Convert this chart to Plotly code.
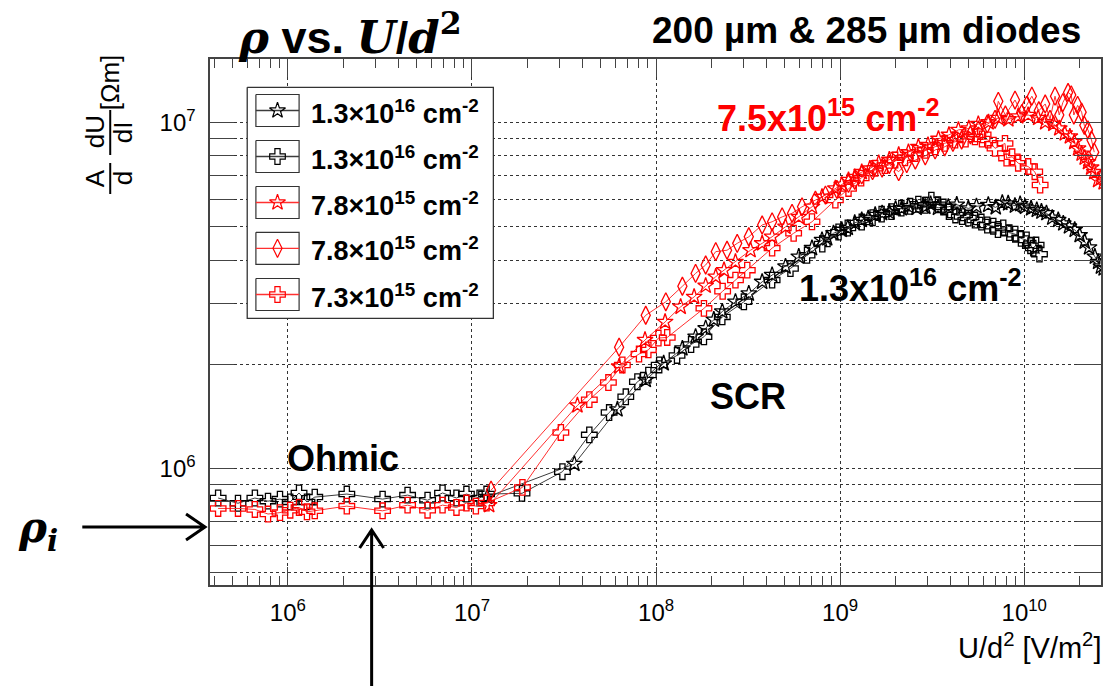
import plotly.graph_objects as go

# ---------------- data ----------------
# 1.3e16 cm^-2, open crosses (black)
bc_x = [4.18e5, 5.36e5, 6.62e5, 7.8e5, 9.06e5, 1.03e6, 1.15e6, 1.27e6, 1.4e6, 2.09e6,
        3.27e6, 4.47e6, 5.74e6, 6.92e6, 8.24e6, 9.33e6, 1.1e7, 1.2e7, 1.87e7, 3.1e7,
        4.34e7, 5.56e7, 6.85e7, 7.92e7, 9.08e7, 1.04e8, 1.3e8, 1.55e8, 1.82e8, 2.29e8,
        3.0e8, 4.27e8, 5.37e8, 6.61e8, 8.0e8, 9.8e8, 1.1e9, 1.31e9, 1.5e9, 1.68e9,
        1.9e9, 2.15e9, 2.4e9, 2.66e9, 2.9e9, 3.13e9, 3.4e9, 3.64e9, 3.9e9, 4.23e9,
        4.6e9, 4.97e9, 5.4e9, 5.85e9, 6.3e9, 6.79e9, 7.2e9, 7.69e9, 8.3e9, 8.94e9,
        9.6e9, 1.03e10, 1.08e10, 1.12e10, 1.16e10, 1.21e10]
bc_y = [8.21e5, 7.93e5, 8.21e5, 8.04e5, 8.15e5, 8.0e5, 8.49e5, 8.0e5, 8.26e5, 8.43e5,
        8.15e5, 8.37e5, 8.09e5, 8.49e5, 8.21e5, 8.43e5, 8.21e5, 8.43e5, 8.47e5, 9.78e5,
        1.25e6, 1.45e6, 1.61e6, 1.78e6, 1.86e6, 1.99e6, 2.12e6, 2.28e6, 2.40e6, 2.74e6,
        3.03e6, 3.50e6, 3.78e6, 4.13e6, 4.45e6, 4.82e6, 4.95e6, 5.15e6, 5.30e6, 5.43e6,
        5.52e6, 5.65e6, 5.72e6, 5.80e6, 5.76e6, 5.96e6, 5.78e6, 5.69e6, 5.52e6, 5.40e6,
        5.34e6, 5.29e6, 5.22e6, 5.15e6, 5.05e6, 5.01e6, 4.90e6, 4.95e6, 4.80e6, 4.75e6,
        4.62e6, 4.57e6, 4.40e6, 4.33e6, 4.42e6, 4.16e6]

# 1.3e16 cm^-2, open stars (black)
bs_x = [1.21e7, 3.6e7, 6.17e7, 8.79e7, 1.10e8, 1.39e8, 1.64e8, 1.86e8, 2.06e8, 2.29e8,
        2.70e8, 3.19e8, 3.77e8, 4.27e8, 5.05e8, 5.96e8, 7.03e8, 7.97e8, 8.5e8, 9.2e8,
        1.02e9, 1.1e9, 1.2e9, 1.31e9, 1.42e9, 1.55e9, 1.69e9, 1.85e9, 2.0e9, 2.16e9,
        2.35e9, 2.6e9, 2.9e9, 3.1e9, 3.4e9, 3.87e9, 4.3e9, 4.97e9, 5.5e9, 6.38e9,
        7.0e9, 7.6e9, 8.18e9, 8.9e9, 9.5e9, 1.01e10, 1.09e10, 1.17e10, 1.24e10, 1.32e10,
        1.42e10, 1.53e10, 1.63e10, 1.75e10, 1.88e10, 2.0e10, 2.13e10, 2.25e10, 2.42e10, 2.52e10,
        2.61e10, 2.7e10]
bs_y = [8.27e5, 1.03e6, 1.48e6, 1.80e6, 2.01e6, 2.22e6, 2.40e6, 2.54e6, 2.69e6, 2.84e6,
        3.03e6, 3.20e6, 3.46e6, 3.62e6, 3.83e6, 4.09e6, 4.33e6, 4.57e6, 4.62e6, 4.78e6,
        4.89e6, 4.95e6, 5.12e6, 5.22e6, 5.28e6, 5.40e6, 5.46e6, 5.50e6, 5.62e6, 5.64e6,
        5.72e6, 5.66e6, 5.70e6, 5.80e6, 5.66e6, 5.70e6, 5.78e6, 5.64e6, 5.72e6, 5.77e6,
        5.68e6, 5.85e6, 5.83e6, 5.74e6, 5.80e6, 5.70e6, 5.64e6, 5.58e6, 5.52e6, 5.46e6,
        5.30e6, 5.22e6, 5.10e6, 5.00e6, 4.89e6, 4.72e6, 4.52e6, 4.35e6, 4.09e6, 3.95e6,
        3.83e6, 3.78e6]

# 7.8e15 cm^-2, open stars (red)
rs_x = [1.24e7, 3.74e7, 6.30e7, 8.71e7, 1.12e8, 1.36e8, 1.61e8, 1.86e8, 2.11e8, 2.34e8,
        2.70e8, 3.26e8, 3.77e8, 4.27e8, 5.05e8, 5.96e8, 7.03e8, 7.97e8, 9.42e8, 1.02e9,
        1.11e9, 1.2e9, 1.31e9, 1.45e9, 1.62e9, 1.85e9, 2.08e9, 2.35e9, 2.66e9, 3.0e9,
        3.42e9, 3.9e9, 4.39e9, 5.0e9, 5.63e9, 6.4e9, 7.23e9, 8.2e9, 9.27e9, 1.05e10,
        1.19e10, 1.3e10, 1.44e10, 1.55e10, 1.66e10, 1.77e10, 1.87e10, 1.96e10, 2.05e10, 2.13e10,
        2.22e10, 2.31e10, 2.40e10, 2.52e10, 2.61e10, 2.7e10]
rs_y = [7.83e5, 1.52e6, 1.97e6, 2.35e6, 2.65e6, 2.93e6, 3.13e6, 3.37e6, 3.58e6, 3.74e6,
        3.95e6, 4.27e6, 4.47e6, 4.67e6, 4.99e6, 5.33e6, 5.70e6, 6.09e6, 6.44e6, 6.60e6,
        6.81e6, 6.95e6, 7.18e6, 7.35e6, 7.62e6, 7.80e6, 8.05e6, 8.20e6, 8.49e6, 8.60e6,
        8.96e6, 9.20e6, 9.51e6, 9.60e6, 9.89e6, 1.00e7, 1.03e7, 1.02e7, 1.04e7, 1.05e7,
        1.03e7, 1.00e7, 9.89e6, 9.60e6, 9.29e6, 9.10e6, 8.77e6, 8.40e6, 8.12e6, 7.90e6,
        7.67e6, 7.40e6, 7.18e6, 6.81e6, 6.90e6, 6.70e6]

# 7.8e15 cm^-2, open diamonds (red)
rd_x = [1.27e7, 6.30e7, 8.79e7, 1.13e8, 1.39e8, 1.64e8, 1.86e8, 2.11e8, 2.43e8, 2.76e8,
        3.19e8, 3.77e8, 4.27e8, 4.84e8, 5.48e8, 6.21e8, 7.34e8, 8.32e8, 9.6e8, 1.11e9,
        1.2e9, 1.31e9, 1.5e9, 1.69e9, 1.85e9, 2.08e9, 2.3e9, 2.56e9, 2.9e9, 3.28e9,
        3.7e9, 4.1e9, 4.57e9, 5.1e9, 5.63e9, 6.3e9, 6.94e9, 7.23e9, 7.9e9, 8.91e9,
        9.7e9, 1.03e10, 1.10e10, 1.2e10, 1.30e10, 1.38e10, 1.47e10, 1.55e10, 1.62e10, 1.73e10,
        1.80e10, 1.86e10, 1.95e10, 2.05e10, 2.12e10, 2.22e10, 2.32e10, 2.4e10]
rd_y = [8.65e5, 2.24e6, 2.77e6, 3.03e6, 3.36e6, 3.66e6, 3.87e6, 4.23e6, 4.27e6, 4.47e6,
        4.67e6, 5.05e6, 5.16e6, 5.33e6, 5.46e6, 5.70e6, 5.96e6, 6.16e6, 6.40e6, 6.66e6,
        6.80e6, 7.05e6, 7.25e6, 7.37e6, 7.55e6, 7.20e6, 7.60e6, 7.78e6, 8.00e6, 8.32e6,
        8.50e6, 8.75e6, 8.89e6, 9.20e6, 9.51e6, 9.90e6, 1.02e7, 1.15e7, 1.05e7, 1.16e7,
        1.06e7, 1.12e7, 1.19e7, 1.08e7, 1.13e7, 1.02e7, 1.19e7, 1.05e7, 1.14e7, 1.22e7,
        1.20e7, 1.05e7, 1.12e7, 1.07e7, 9.8e6, 9.51e6, 8.89e6, 8.2e6]

# 7.3e15 cm^-2, open crosses (red)
rc_x = [4.18e5, 5.36e5, 6.62e5, 7.8e5, 9.06e5, 1.03e6, 1.15e6, 1.27e6, 1.4e6, 2.09e6,
        3.27e6, 4.47e6, 5.74e6, 6.92e6, 8.24e6, 9.33e6, 1.05e7, 1.2e7, 1.88e7, 3.04e7,
        4.34e7, 5.51e7, 6.56e7, 8.08e7, 9.08e7, 1.03e8, 1.15e8, 1.82e8, 2.3e8, 2.7e8,
        3.13e8, 4.27e8, 5.59e8, 7.03e8, 9.42e8, 1.11e9, 1.3e9, 1.55e9, 1.75e9, 1.99e9,
        2.25e9, 2.56e9, 2.9e9, 3.28e9, 3.7e9, 4.21e9, 4.8e9, 5.40e9, 5.9e9, 6.38e9,
        6.94e9, 7.86e9, 8.02e9, 8.6e9, 9.27e9, 1.05e10, 1.14e10, 1.22e10]
rc_y = [7.66e5, 7.66e5, 7.61e5, 7.38e5, 7.45e5, 7.57e5, 7.71e5, 7.49e5, 7.54e5, 7.78e5,
        7.54e5, 7.83e5, 7.57e5, 7.83e5, 7.71e5, 7.94e5, 7.78e5, 7.94e5, 8.81e5, 1.27e6,
        1.58e6, 1.77e6, 1.99e6, 2.14e6, 2.20e6, 2.38e6, 2.39e6, 2.90e6, 3.25e6, 3.50e6,
        3.74e6, 4.33e6, 4.78e6, 5.16e6, 5.96e6, 6.44e6, 6.90e6, 7.37e6, 7.50e6, 7.78e6,
        7.90e6, 8.13e6, 8.30e6, 8.50e6, 8.70e6, 8.89e6, 8.95e6, 9.08e6, 8.95e6, 8.89e6,
        8.41e6, 8.69e6, 7.88e6, 7.95e6, 7.62e6, 7.45e6, 7.20e6, 6.59e6]

legend_labels = ["1.3×10<sup>16</sup> cm<sup>-2</sup>",
                 "1.3×10<sup>16</sup> cm<sup>-2</sup>",
                 "7.8×10<sup>15</sup> cm<sup>-2</sup>",
                 "7.8×10<sup>15</sup> cm<sup>-2</sup>",
                 "7.3×10<sup>15</sup> cm<sup>-2</sup>"]
x_tickvals = [1e6, 1e7, 1e8, 1e9, 1e10]
x_ticktext = ["10<sup>6</sup>", "10<sup>7</sup>", "10<sup>8</sup>", "10<sup>9</sup>", "10<sup>10</sup>"]
y_tickvals = [1e6, 1e7]
y_ticktext = ["10<sup>6</sup>", "10<sup>7</sup>"]

# ---------------- style / layout ----------------
W, H = 1107, 686
L, R, T, B = 210, 1103, 59, 585
def u(px):
    return (px - L) / (R - L)
def v(py):
    return (B - py) / (B - T)

SANS = "Liberation Sans, Arial, sans-serif"
SERIF = "DejaVu Serif"
RED = "#ff0000"
BLK = "#000000"

series = [
    (bs_x, bs_y, BLK, "#3c3c3c", "star-open", 12),
    (bc_x, bc_y, BLK, "#3c3c3c", "cross-open", 13),
    (rs_x, rs_y, RED, "#ff3030", "star-open", 12),
    (rd_x, rd_y, RED, "#ff3030", "diamond-tall-open", 13),
    (rc_x, rc_y, RED, "#ff3030", "cross-open", 13),
]

fig = go.Figure()
for (sx, sy, mc, lc, sym, sz), name in zip(series, legend_labels):
    fig.add_trace(go.Scatter(
        x=sx, y=sy, mode="lines+markers", name=name,
        line=dict(color=lc, width=1),
        marker=dict(symbol=sym, size=sz, color=mc, line=dict(width=1.3, color=mc)),
        hoverinfo="skip", showlegend=False))

# hand-drawn legend (on an overlay axis spanning the plot area)
lx0, lx1, ly0, ly1 = 247.3, 494, 87.3, 318.3
fig.add_trace(go.Scatter(
    x=[u(lx0), u(lx1), u(lx1), u(lx0), u(lx0)],
    y=[v(ly0), v(ly0), v(ly1), v(ly1), v(ly0)],
    xaxis="x2", yaxis="y2", mode="lines", fill="toself", fillcolor="white",
    line=dict(color="#333333", width=1.3), hoverinfo="skip", showlegend=False))
centers = [110.5, 156.5, 202.5, 248.3, 294.5]
bx0, bx1 = 256, 299.3
for (sx, sy, mc, lc, sym, sz), cy in zip(series, centers):
    fig.add_trace(go.Scatter(
        x=[u(bx0), u(bx1), u(bx1), u(bx0), u(bx0)],
        y=[v(cy - 16), v(cy - 16), v(cy + 16), v(cy + 16), v(cy - 16)],
        xaxis="x2", yaxis="y2", mode="lines",
        line=dict(color="#333333", width=1.2), hoverinfo="skip", showlegend=False))
    fig.add_trace(go.Scatter(
        x=[u(bx0), u(bx1)], y=[v(cy), v(cy)],
        xaxis="x2", yaxis="y2", mode="lines",
        line=dict(color=lc, width=1.3), hoverinfo="skip", showlegend=False))
    fig.add_trace(go.Scatter(
        x=[u((bx0 + bx1) / 2)], y=[v(cy)],
        xaxis="x2", yaxis="y2", mode="markers",
        marker=dict(symbol=sym, size=sz, color=mc, line=dict(width=1.2, color=mc)),
        hoverinfo="skip", showlegend=False))

annotations = []
for lab, cy in zip(legend_labels, centers):
    annotations.append(dict(x=u(309), y=v(cy + 1), xref="paper", yref="paper",
                            text="<b>" + lab + "</b>", showarrow=False,
                            xanchor="left", yanchor="middle",
                            font=dict(family=SANS, size=27, color="black")))

def txt(px, py, text, size, color="black", xanchor="center", angle=0, family=SANS):
    annotations.append(dict(x=u(px), y=v(py), xref="paper", yref="paper", text=text,
                            showarrow=False, xanchor=xanchor, yanchor="middle",
                            textangle=angle, font=dict(family=family, size=size, color=color)))

sp = '<span style="font-family:DejaVu Serif">'
txt(350, 34, "<b>" + sp + "<i>ρ</i></span> vs. " + sp + "<i>U</i></span>/" + sp +
    "<i>d</i><sup>2</sup></span></b>", 45)
txt(868, 31, "<b>200 µm &amp; 285 µm diodes</b>", 37)
txt(343, 458, "<b>Ohmic</b>", 36)
txt(749, 396, "<b>SCR</b>", 36)
txt(912, 286, "<b>1.3x10<sup>16</sup> cm<sup>-2</sup></b>", 36)
txt(830, 116, "<b>7.5x10<sup>15</sup> cm<sup>-2</sup></b>", 36, color=RED)
txt(38, 530, "<b><i>ρ<sub>i</sub></i></b>", 42, family=SERIF)
txt(1105, 646, "U/d<sup>2</sup> [V/m<sup>2</sup>]", 29, xanchor="right")
# y-axis title  (A/d)(dU/dI) [Ωm]
txt(95, 178, "A", 26, angle=-90)
txt(123, 178, "d", 26, angle=-90)
txt(95, 132, "dU", 26, angle=-90)
txt(123, 132, "dI", 26, angle=-90)
txt(110, 82, "[Ωm]", 26, angle=-90)

shapes = [
    dict(type="line", xref="paper", yref="paper", x0=u(110), x1=u(110), y0=v(163), y1=v(194),
         line=dict(color="black", width=2)),
    dict(type="line", xref="paper", yref="paper", x0=u(110), x1=u(110), y0=v(110), y1=v(155),
         line=dict(color="black", width=2)),
    # horizontal arrow to rho_i
    dict(type="path", xref="paper", yref="paper",
         path=f"M {u(82)},{v(527)} L {u(205)},{v(527)} M {u(186)},{v(514)} L {u(205)},{v(527)} L {u(186)},{v(540)}",
         line=dict(color="black", width=3)),
    # vertical arrow from below
    dict(type="path", xref="paper", yref="paper",
         path=f"M {u(372)},{v(686)} L {u(372)},{v(530)} M {u(360)},{v(548)} L {u(372)},{v(530)} L {u(384)},{v(548)}",
         line=dict(color="black", width=3)),
]

axis_common = dict(showline=True, linecolor="#444444", linewidth=1.6, mirror="ticks",
                   ticks="inside", tickcolor="#444444", tickwidth=1,
                   showgrid=True, gridcolor="#333333", gridwidth=1, griddash="3px,3px",
                   zeroline=False, tickfont=dict(family=SANS, size=24, color="black"))

fig.update_layout(
    width=W, height=H, margin=dict(l=L, r=W - R, t=T, b=H - B),
    paper_bgcolor="white", plot_bgcolor="white", showlegend=False,
    xaxis=dict(type="log", range=[5.577, 10.417], tickmode="array",
               tickvals=x_tickvals, ticktext=x_ticktext, ticklen=18,
               ticklabelstandoff=6,
               minor=dict(dtick="D1", ticks="inside", ticklen=9, tickcolor="#444444",
                          showgrid=False),
               **axis_common),
    yaxis=dict(type="log", range=[5.663, 7.183], tickmode="array",
               tickvals=y_tickvals, ticktext=y_ticktext, ticklen=24,
               ticklabelstandoff=8,
               minor=dict(dtick="D1", ticks="inside", ticklen=24, tickcolor="#444444",
                          showgrid=True, gridcolor="#333333", gridwidth=1, griddash="3px,3px"),
               **axis_common),
    xaxis2=dict(overlaying="x", anchor="y2", range=[0, 1], visible=False, fixedrange=True),
    yaxis2=dict(overlaying="y", anchor="x2", range=[0, 1], visible=False, fixedrange=True),
    annotations=annotations, shapes=shapes,
)

fig.write_html("out.html", config={"displayModeBar": False, "staticPlot": True},
               post_script="document.body.style.margin='0px';document.body.style.overflow='hidden';")
